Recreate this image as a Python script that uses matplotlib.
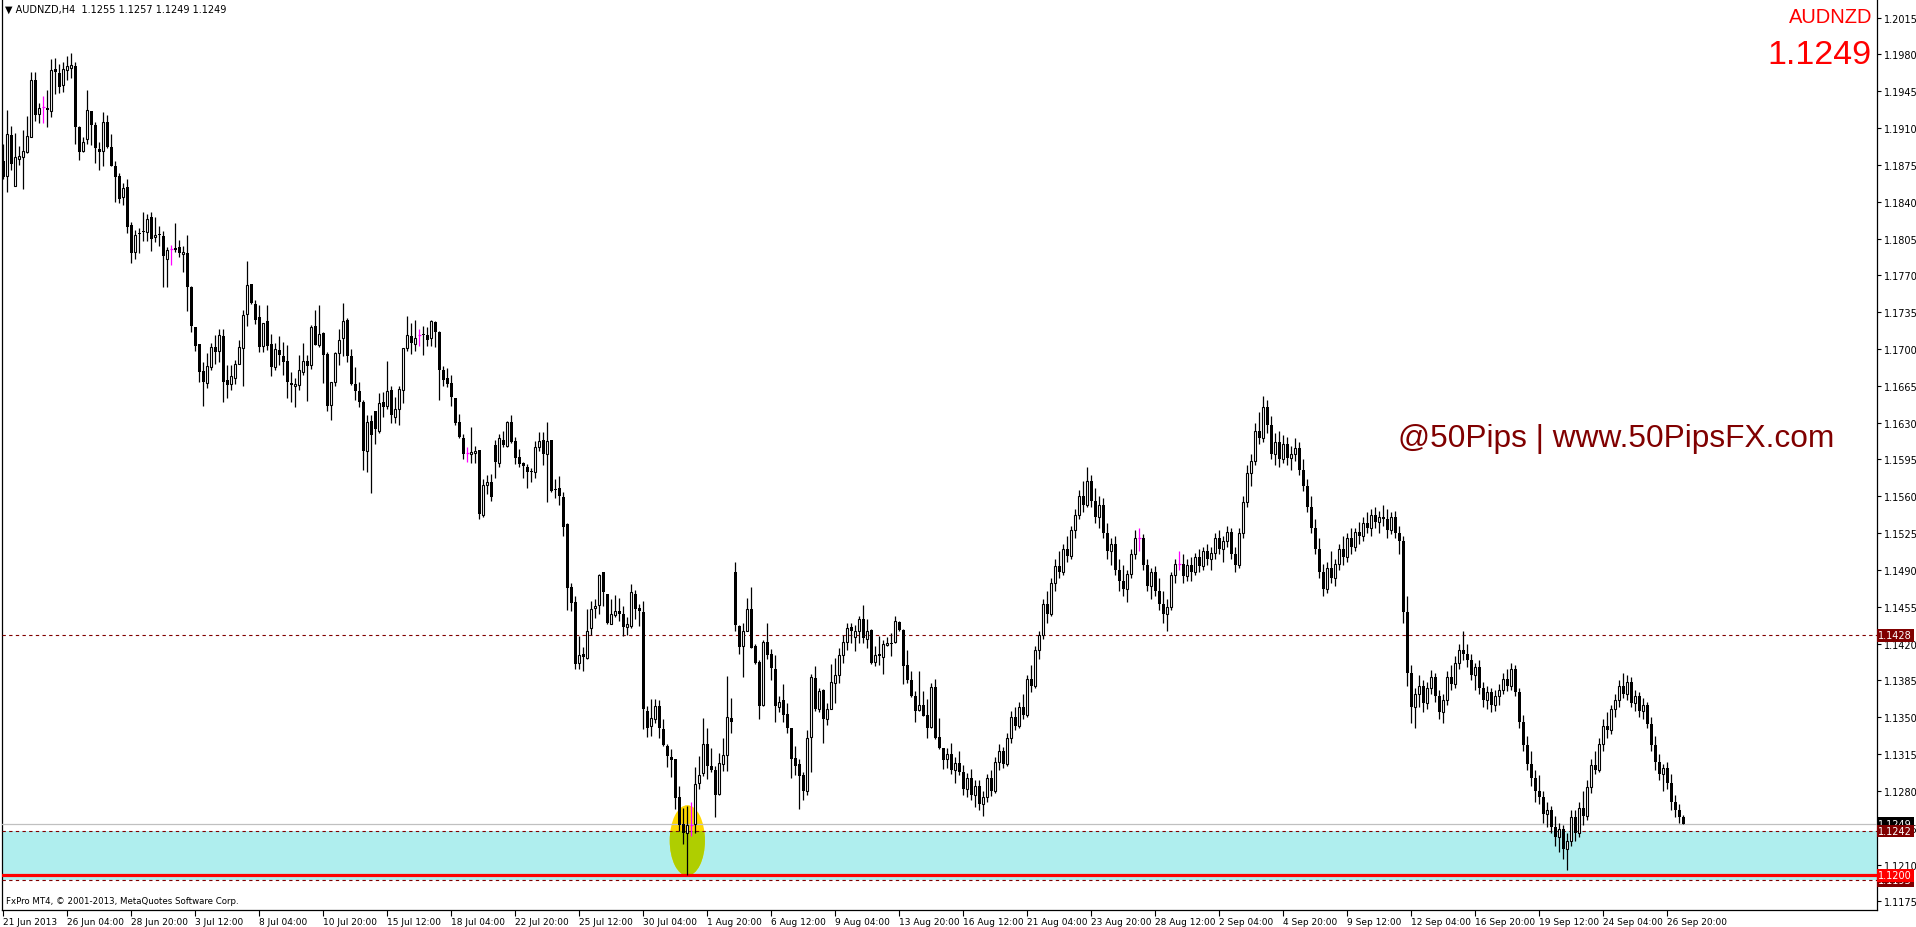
import numpy as np
import matplotlib.pyplot as plt
from matplotlib.patches import Ellipse, Rectangle
from matplotlib.transforms import blended_transform_factory

# AUDNZD H4 bars, prices in pips (11879 -> 1.1879)
opens = [11879, 11864, 11903, 11855, 11881, 11882, 11887, 11901, 11956, 11923,
         11930, 11929, 11926, 11966, 11962, 11951, 11965, 11967, 11969, 11911,
         11888, 11900, 11926, 11913, 11890, 11888, 11916, 11892, 11874, 11864,
         11844, 11854, 11818, 11792, 11810, 11812, 11811, 11825, 11806, 11809,
         11807, 11786, 11795, 11796, 11797, 11790, 11791, 11759, 11721, 11705,
         11679, 11668, 11683, 11702, 11698, 11712, 11671, 11667, 11672, 11686,
         11701, 11733, 11762, 11743, 11730, 11703, 11727, 11705, 11683, 11699,
         11693, 11689, 11668, 11665, 11666, 11678, 11689, 11685, 11722, 11704,
         11715, 11695, 11647, 11669, 11696, 11710, 11728, 11693, 11667, 11660,
         11650, 11603, 11632, 11641, 11622, 11650, 11646, 11661, 11635, 11643,
         11661, 11701, 11712, 11705, 11713, 11714, 11713, 11710, 11726, 11716,
         11680, 11672, 11668, 11653, 11631, 11615, 11601, 11600, 11601, 11604,
         11542, 11571, 11574, 11609, 11592, 11614, 11608, 11631, 11613, 11597,
         11592, 11588, 11584, 11583, 11607, 11614, 11600, 11614, 11567, 11568,
         11559, 11534, 11474, 11460, 11402, 11410, 11406, 11435, 11454, 11457,
         11488, 11467, 11439, 11447, 11451, 11448, 11436, 11437, 11467, 11454,
         11450, 11356, 11342, 11348, 11361, 11339, 11323, 11312, 11310, 11274,
         11249, 11240, 11248, 11249, 11288, 11297, 11325, 11304, 11300, 11277,
         11306, 11314, 11349, 11488, 11437, 11418, 11432, 11453, 11418, 11403,
         11362, 11422, 11410, 11396, 11360, 11366, 11353, 11340, 11311, 11306,
         11295, 11280, 11331, 11387, 11358, 11376, 11348, 11358, 11383, 11390,
         11409, 11422, 11436, 11426, 11432, 11443, 11424, 11433, 11403, 11410,
         11407, 11419, 11421, 11422, 11441, 11433, 11400, 11385, 11370, 11357,
         11362, 11352, 11341, 11379, 11331, 11321, 11310, 11315, 11300, 11307,
         11298, 11282, 11292, 11276, 11285, 11268, 11274, 11292, 11280, 11308,
         11318, 11306, 11330, 11350, 11342, 11360, 11352, 11386, 11380, 11414,
         11428, 11458, 11448, 11478, 11494, 11488, 11510, 11503, 11528, 11542,
         11560, 11552, 11575, 11556, 11540, 11552, 11525, 11508, 11515, 11490,
         11480, 11472, 11486, 11505, 11520, 11520, 11495, 11475, 11488, 11470,
         11458, 11448, 11455, 11485, 11496, 11496, 11484, 11495, 11488, 11502,
         11494, 11508, 11500, 11506, 11520, 11510, 11518, 11526, 11505, 11495,
         11525, 11555, 11582, 11594, 11622, 11615, 11645, 11628, 11600, 11612,
         11595, 11610, 11596, 11600, 11606, 11585, 11570, 11550, 11530, 11510,
         11488, 11472, 11492, 11482, 11496, 11510, 11502, 11520, 11512, 11526,
         11522, 11535, 11530, 11542, 11536, 11540, 11538, 11528, 11540, 11525,
         11518, 11450, 11392, 11360, 11372, 11380, 11364, 11378, 11388, 11370,
         11355, 11366, 11388, 11382, 11402, 11414, 11410, 11404, 11390, 11398,
         11378, 11366, 11374, 11362, 11370, 11376, 11386, 11380, 11396, 11374,
         11346, 11324, 11306, 11292, 11280, 11274, 11258, 11262, 11246, 11236,
         11244, 11225, 11232, 11255, 11240, 11264, 11256, 11284, 11305, 11300,
         11325, 11342, 11338, 11358, 11366, 11380, 11372, 11384, 11364, 11370,
         11356, 11362, 11344, 11324, 11308, 11296, 11302, 11288, 11270, 11262,
         11255]
highs = [11895, 11927, 11912, 11905, 11893, 11908, 11921, 11963, 11963, 11934,
         11940, 11946, 11976, 11977, 11971, 11973, 11978, 11981, 11973, 11912,
         11901, 11946, 11926, 11916, 11897, 11925, 11922, 11904, 11879, 11867,
         11858, 11862, 11821, 11813, 11815, 11830, 11828, 11830, 11825, 11817,
         11812, 11797, 11799, 11820, 11804, 11798, 11808, 11760, 11721, 11705,
         11688, 11696, 11706, 11713, 11719, 11719, 11685, 11685, 11690, 11709,
         11737, 11784, 11762, 11747, 11742, 11725, 11742, 11714, 11706, 11712,
         11707, 11704, 11678, 11672, 11694, 11706, 11694, 11723, 11737, 11742,
         11716, 11697, 11669, 11697, 11719, 11744, 11729, 11700, 11683, 11669,
         11652, 11637, 11637, 11641, 11658, 11659, 11689, 11665, 11654, 11665,
         11701, 11731, 11725, 11728, 11719, 11722, 11721, 11728, 11727, 11717,
         11684, 11682, 11675, 11653, 11638, 11619, 11607, 11626, 11608, 11604,
         11576, 11580, 11581, 11614, 11619, 11622, 11632, 11637, 11616, 11605,
         11593, 11591, 11587, 11613, 11621, 11621, 11631, 11614, 11576, 11579,
         11564, 11535, 11478, 11465, 11427, 11417, 11453, 11461, 11462, 11486,
         11488, 11467, 11462, 11466, 11463, 11456, 11445, 11477, 11471, 11458,
         11461, 11361, 11367, 11367, 11366, 11348, 11325, 11320, 11310, 11285,
         11264, 11266, 11270, 11303, 11313, 11349, 11340, 11321, 11304, 11316,
         11330, 11389, 11368, 11498, 11438, 11440, 11463, 11474, 11420, 11404,
         11423, 11440, 11415, 11409, 11370, 11382, 11364, 11340, 11323, 11310,
         11298, 11338, 11391, 11399, 11378, 11377, 11364, 11401, 11406, 11416,
         11428, 11440, 11440, 11438, 11446, 11457, 11443, 11434, 11418, 11427,
         11423, 11426, 11430, 11446, 11442, 11434, 11414, 11394, 11375, 11394,
         11375, 11367, 11383, 11386, 11349, 11321, 11321, 11326, 11312, 11318,
         11305, 11297, 11301, 11290, 11290, 11280, 11296, 11300, 11312, 11325,
         11322, 11335, 11356, 11360, 11365, 11372, 11390, 11400, 11418, 11432,
         11462, 11470, 11482, 11500, 11508, 11515, 11522, 11532, 11548, 11566,
         11575, 11588, 11580, 11568, 11560, 11558, 11535, 11520, 11522, 11500,
         11495, 11490, 11510, 11528, 11530, 11524, 11500, 11492, 11494, 11482,
         11470, 11462, 11488, 11500, 11508, 11505, 11500, 11502, 11506, 11510,
         11512, 11515, 11512, 11525, 11528, 11522, 11532, 11530, 11512, 11530,
         11560, 11590, 11600, 11630, 11640, 11655, 11652, 11636, 11620, 11622,
         11618, 11616, 11608, 11615, 11612, 11595, 11576, 11560, 11538, 11520,
         11496, 11498, 11508, 11500, 11515, 11522, 11525, 11530, 11530, 11536,
         11540, 11545, 11548, 11550, 11546, 11552, 11548, 11545, 11546, 11532,
         11522, 11465, 11400, 11378, 11390, 11385, 11384, 11395, 11392, 11376,
         11372, 11394, 11400, 11408, 11420, 11432, 11420, 11410, 11402, 11404,
         11384, 11380, 11378, 11376, 11382, 11392, 11396, 11402, 11400, 11378,
         11352, 11332, 11318, 11300, 11295, 11280, 11270, 11266, 11256, 11250,
         11248, 11240, 11262, 11262, 11270, 11280, 11290, 11310, 11318, 11330,
         11348, 11355, 11362, 11372, 11385, 11392, 11390, 11388, 11376, 11374,
         11368, 11365, 11350, 11332, 11315, 11306, 11308, 11296, 11276, 11268,
         11257]
lows = [11862, 11849, 11870, 11855, 11875, 11852, 11886, 11901, 11917, 11915,
        11915, 11911, 11920, 11942, 11943, 11944, 11956, 11958, 11895, 11880,
        11887, 11895, 11894, 11877, 11870, 11874, 11891, 11874, 11840, 11839,
        11837, 11810, 11782, 11786, 11791, 11803, 11803, 11793, 11802, 11798,
        11759, 11759, 11780, 11792, 11787, 11773, 11736, 11716, 11698, 11669,
        11646, 11663, 11680, 11686, 11688, 11650, 11653, 11661, 11667, 11686,
        11665, 11722, 11743, 11724, 11697, 11697, 11699, 11674, 11680, 11685,
        11675, 11653, 11650, 11645, 11661, 11675, 11651, 11681, 11704, 11702,
        11668, 11641, 11633, 11665, 11685, 11693, 11688, 11666, 11652, 11645,
        11585, 11583, 11563, 11610, 11620, 11635, 11643, 11630, 11630, 11628,
        11649, 11698, 11695, 11698, 11703, 11694, 11703, 11703, 11702, 11652,
        11665, 11664, 11646, 11628, 11615, 11595, 11593, 11592, 11592, 11538,
        11540, 11562, 11556, 11577, 11588, 11607, 11607, 11611, 11591, 11588,
        11577, 11568, 11574, 11577, 11603, 11590, 11555, 11564, 11558, 11552,
        11522, 11452, 11451, 11396, 11396, 11394, 11405, 11428, 11444, 11448,
        11456, 11439, 11439, 11445, 11442, 11427, 11428, 11435, 11443, 11437,
        11339, 11331, 11332, 11345, 11330, 11323, 11303, 11293, 11263, 11242,
        11230, 11200, 11237, 11240, 11282, 11294, 11291, 11298, 11255, 11276,
        11299, 11299, 11335, 11432, 11410, 11388, 11432, 11416, 11401, 11348,
        11361, 11405, 11385, 11346, 11355, 11346, 11335, 11292, 11295, 11263,
        11271, 11276, 11298, 11356, 11355, 11326, 11343, 11358, 11364, 11383,
        11402, 11414, 11421, 11413, 11421, 11421, 11416, 11401, 11399, 11400,
        11391, 11418, 11408, 11421, 11432, 11382, 11383, 11369, 11346, 11356,
        11351, 11330, 11340, 11329, 11320, 11301, 11302, 11296, 11288, 11295,
        11276, 11274, 11271, 11265, 11262, 11256, 11270, 11275, 11278, 11300,
        11302, 11304, 11326, 11338, 11340, 11348, 11350, 11374, 11378, 11405,
        11424, 11440, 11446, 11470, 11482, 11485, 11498, 11500, 11520, 11538,
        11545, 11550, 11550, 11535, 11530, 11520, 11500, 11495, 11485, 11470,
        11465, 11460, 11482, 11500, 11508, 11490, 11470, 11462, 11465, 11452,
        11440, 11432, 11452, 11478, 11490, 11478, 11480, 11480, 11485, 11488,
        11490, 11495, 11490, 11500, 11505, 11498, 11512, 11500, 11488, 11492,
        11520, 11550, 11570, 11590, 11610, 11612, 11620, 11595, 11590, 11588,
        11592, 11590, 11585, 11594, 11580, 11565, 11545, 11525, 11505, 11482,
        11465, 11468, 11478, 11475, 11490, 11495, 11498, 11505, 11508, 11515,
        11518, 11525, 11522, 11530, 11525, 11532, 11520, 11524, 11520, 11505,
        11440, 11380, 11345, 11340, 11360, 11355, 11358, 11372, 11365, 11348,
        11345, 11362, 11376, 11378, 11396, 11404, 11398, 11385, 11376, 11372,
        11360, 11358, 11355, 11356, 11362, 11372, 11375, 11376, 11370, 11340,
        11318, 11300, 11285, 11270, 11268, 11250, 11246, 11240, 11228, 11222,
        11215, 11205, 11228, 11232, 11236, 11248, 11252, 11278, 11296, 11298,
        11318, 11330, 11334, 11350, 11360, 11368, 11366, 11360, 11356, 11350,
        11348, 11340, 11318, 11300, 11290, 11280, 11282, 11262, 11255, 11250,
        11249]
closes = [11863, 11904, 11876, 11882, 11883, 11888, 11902, 11956, 11922, 11929,
          11930, 11927, 11965, 11963, 11949, 11966, 11969, 11970, 11911, 11887,
          11897, 11927, 11913, 11891, 11887, 11916, 11892, 11874, 11863, 11843,
          11853, 11816, 11791, 11808, 11809, 11811, 11824, 11805, 11808, 11808,
          11788, 11794, 11795, 11794, 11791, 11792, 11759, 11722, 11703, 11678,
          11669, 11684, 11702, 11697, 11713, 11669, 11666, 11674, 11686, 11702,
          11732, 11761, 11744, 11728, 11702, 11725, 11703, 11683, 11700, 11694,
          11688, 11669, 11666, 11667, 11680, 11689, 11684, 11721, 11704, 11714,
          11694, 11646, 11669, 11696, 11709, 11727, 11693, 11667, 11660, 11650,
          11603, 11631, 11618, 11624, 11649, 11645, 11660, 11637, 11643, 11662,
          11701, 11713, 11706, 11710, 11713, 11713, 11709, 11727, 11716, 11680,
          11671, 11667, 11654, 11630, 11616, 11600, 11601, 11602, 11603, 11543,
          11571, 11574, 11559, 11593, 11615, 11609, 11631, 11612, 11596, 11591,
          11589, 11583, 11583, 11607, 11613, 11600, 11613, 11565, 11566, 11560,
          11531, 11473, 11459, 11401, 11409, 11407, 11432, 11453, 11456, 11485,
          11469, 11440, 11448, 11451, 11448, 11436, 11439, 11469, 11453, 11451,
          11358, 11340, 11349, 11361, 11340, 11324, 11313, 11309, 11273, 11248,
          11240, 11248, 11248, 11287, 11295, 11325, 11304, 11300, 11276, 11307,
          11314, 11350, 11346, 11438, 11417, 11432, 11453, 11416, 11402, 11361,
          11422, 11409, 11397, 11361, 11365, 11352, 11340, 11310, 11304, 11294,
          11280, 11330, 11388, 11358, 11375, 11348, 11358, 11384, 11390, 11409,
          11422, 11435, 11432, 11432, 11443, 11425, 11432, 11402, 11409, 11408,
          11420, 11421, 11420, 11442, 11433, 11399, 11385, 11370, 11356, 11362,
          11351, 11340, 11379, 11330, 11321, 11309, 11315, 11300, 11307, 11298,
          11282, 11292, 11276, 11285, 11268, 11274, 11292, 11280, 11308, 11318,
          11306, 11330, 11350, 11342, 11360, 11352, 11386, 11380, 11414, 11428,
          11458, 11448, 11478, 11494, 11488, 11510, 11503, 11528, 11542, 11560,
          11552, 11575, 11556, 11540, 11552, 11525, 11508, 11515, 11490, 11480,
          11472, 11486, 11505, 11520, 11520, 11495, 11475, 11488, 11470, 11458,
          11448, 11455, 11485, 11496, 11496, 11484, 11495, 11488, 11502, 11494,
          11508, 11500, 11506, 11520, 11510, 11518, 11526, 11505, 11495, 11525,
          11555, 11582, 11594, 11622, 11615, 11645, 11628, 11600, 11612, 11595,
          11610, 11596, 11600, 11606, 11585, 11570, 11550, 11530, 11510, 11488,
          11472, 11492, 11482, 11496, 11510, 11502, 11520, 11512, 11526, 11522,
          11535, 11530, 11542, 11536, 11540, 11538, 11528, 11540, 11525, 11518,
          11450, 11392, 11360, 11372, 11380, 11364, 11378, 11388, 11370, 11355,
          11366, 11388, 11382, 11402, 11414, 11410, 11404, 11390, 11398, 11378,
          11366, 11374, 11362, 11370, 11376, 11386, 11380, 11396, 11374, 11346,
          11324, 11306, 11292, 11280, 11274, 11258, 11262, 11246, 11236, 11244,
          11225, 11232, 11255, 11240, 11264, 11256, 11284, 11305, 11300, 11325,
          11342, 11338, 11358, 11366, 11380, 11372, 11384, 11364, 11370, 11356,
          11362, 11344, 11324, 11308, 11296, 11302, 11288, 11270, 11262, 11255,
          11249]

date_labels = ["21 Jun 2013", "26 Jun 04:00", "28 Jun 20:00", "3 Jul 12:00", "8 Jul 04:00",
               "10 Jul 20:00", "15 Jul 12:00", "18 Jul 04:00", "22 Jul 20:00", "25 Jul 12:00",
               "30 Jul 04:00", "1 Aug 20:00", "6 Aug 12:00", "9 Aug 04:00", "13 Aug 20:00",
               "16 Aug 12:00", "21 Aug 04:00", "23 Aug 20:00", "28 Aug 12:00", "2 Sep 04:00",
               "4 Sep 20:00", "9 Sep 12:00", "12 Sep 04:00", "16 Sep 20:00", "19 Sep 12:00",
               "24 Sep 04:00", "26 Sep 20:00"]
bars_per_label = 16

price_ticks = [1.2015, 1.1980, 1.1945, 1.1910, 1.1875, 1.1840, 1.1805, 1.1770, 1.1735,
               1.1700, 1.1665, 1.1630, 1.1595, 1.1560, 1.1525, 1.1490, 1.1455, 1.1420,
               1.1385, 1.1350, 1.1315, 1.1280, 1.1245, 1.1210, 1.1175]

resistance = 1.1428
bid = 1.1249
zone_top = 1.1242
support = 1.1200
zone_bottom = 1.1195
low_bar = 171

W, H = 1916, 928
fig = plt.figure(figsize=(W / 100, H / 100), dpi=100)
ax = fig.add_axes([2 / W, 17 / H, 1875 / W, 911 / H])

o = np.array(opens) / 10000
h = np.array(highs) / 10000
l = np.array(lows) / 10000
c = np.array(closes) / 10000
x = np.arange(len(o))
up = c > o
dn = c < o
dj = c == o

# support zone + highlight
ax.axhspan(zone_bottom, zone_top, color="#afeeee", lw=0, zorder=1)
ell = Ellipse((low_bar, 1.1233), 8.8, 0.0067, facecolor="#ffd700", edgecolor="none", zorder=2)
ax.add_patch(ell)
ell2 = Ellipse((low_bar, 1.1233), 8.8, 0.0067, facecolor="#afce00", edgecolor="none", zorder=2.1)
ax.add_patch(ell2)
ell2.set_clip_path(Rectangle((0, zone_bottom), 400, zone_top - zone_bottom, transform=ax.transData))

ax.axhline(resistance, color="#800000", lw=0.8, ls=(0, (3, 3)), zorder=3)
ax.axhline(zone_top, color="#800000", lw=0.8, ls=(0, (3, 3)), zorder=3)
ax.axhline(zone_bottom, color="#800000", lw=0.8, ls=(0, (3, 3)), zorder=3)
ax.axhline(bid, color="#c0c0c0", lw=0.9, zorder=3)
ax.axhline(support, color="#ff0000", lw=2.3, zorder=3)

# candles
ax.vlines(x[~dj], l[~dj], h[~dj], color="black", lw=0.9, zorder=4)
ax.bar(x[dn], (o - c)[dn], bottom=c[dn], width=0.78, color="black", lw=0, zorder=5)
ax.bar(x[up], (c - o)[up], bottom=o[up], width=0.55, facecolor="white",
       edgecolor="black", lw=0.8, zorder=5)
ax.vlines(x[dj], l[dj], h[dj], color="#ff00ff", lw=0.9, zorder=5)
ax.hlines(o[dj], x[dj] - 0.45, x[dj] + 0.45, color="#ff00ff", lw=0.9, zorder=5)

ax.set_xlim(-0.325, 468.4)
ax.set_ylim(1.11669, 1.20326)

ax.spines["top"].set_visible(False)
for s in ["left", "right", "bottom"]:
    ax.spines[s].set_linewidth(0.9)

ax.yaxis.tick_right()
ax.set_yticks(price_ticks)
ax.set_yticklabels([f"{p:.4f}" for p in price_ticks])
ax.tick_params(axis="y", direction="out", length=3, width=0.8, pad=2, labelsize=7)

ax.set_xticks([i * bars_per_label for i in range(len(date_labels))])
ax.set_xticklabels(date_labels)
ax.tick_params(axis="x", direction="out", length=4, width=0.8, pad=1, labelsize=6.5)
for lab in ax.get_xticklabels():
    lab.set_horizontalalignment("left")

# price tags on the right
tr = blended_transform_factory(ax.transAxes, ax.transData)
for val, col in [(resistance, "#800000"), (zone_bottom, "#800000"), (bid, "black"),
                 (zone_top, "#800000"), (support, "#ff0000")]:
    ax.text(1.0007, val, f"{val:.4f}", transform=tr, color="white", fontsize=7,
            va="center", ha="left", clip_on=False, zorder=10,
            bbox=dict(boxstyle="square,pad=0.15", fc=col, ec="none"))

fig.text(5 / W, 1 - 10 / H, "\u25bc AUDNZD,H4  1.1255 1.1257 1.1249 1.1249",
         fontsize=7, va="center", ha="left")
fig.text(6 / W, 1 - 902 / H, "FxPro MT4, \u00a9 2001-2013, MetaQuotes Software Corp.",
         fontsize=6.2, va="center", ha="left")
fig.text(1872 / W, 1 - 23 / H, "AUDNZD", color="red", fontsize=14.5,
         family="Liberation Sans", ha="right", va="baseline")
fig.text(1872 / W, 1 - 64 / H, "1.1249", color="red", fontsize=24.5,
         family="Liberation Sans", ha="right", va="baseline")
fig.text(1398 / W, 1 - 447 / H, "@50Pips | www.50PipsFX.com", color="#800000",
         fontsize=22.8, family="Liberation Sans", ha="left", va="baseline")

fig.savefig("out.png", dpi=100, facecolor="white")
